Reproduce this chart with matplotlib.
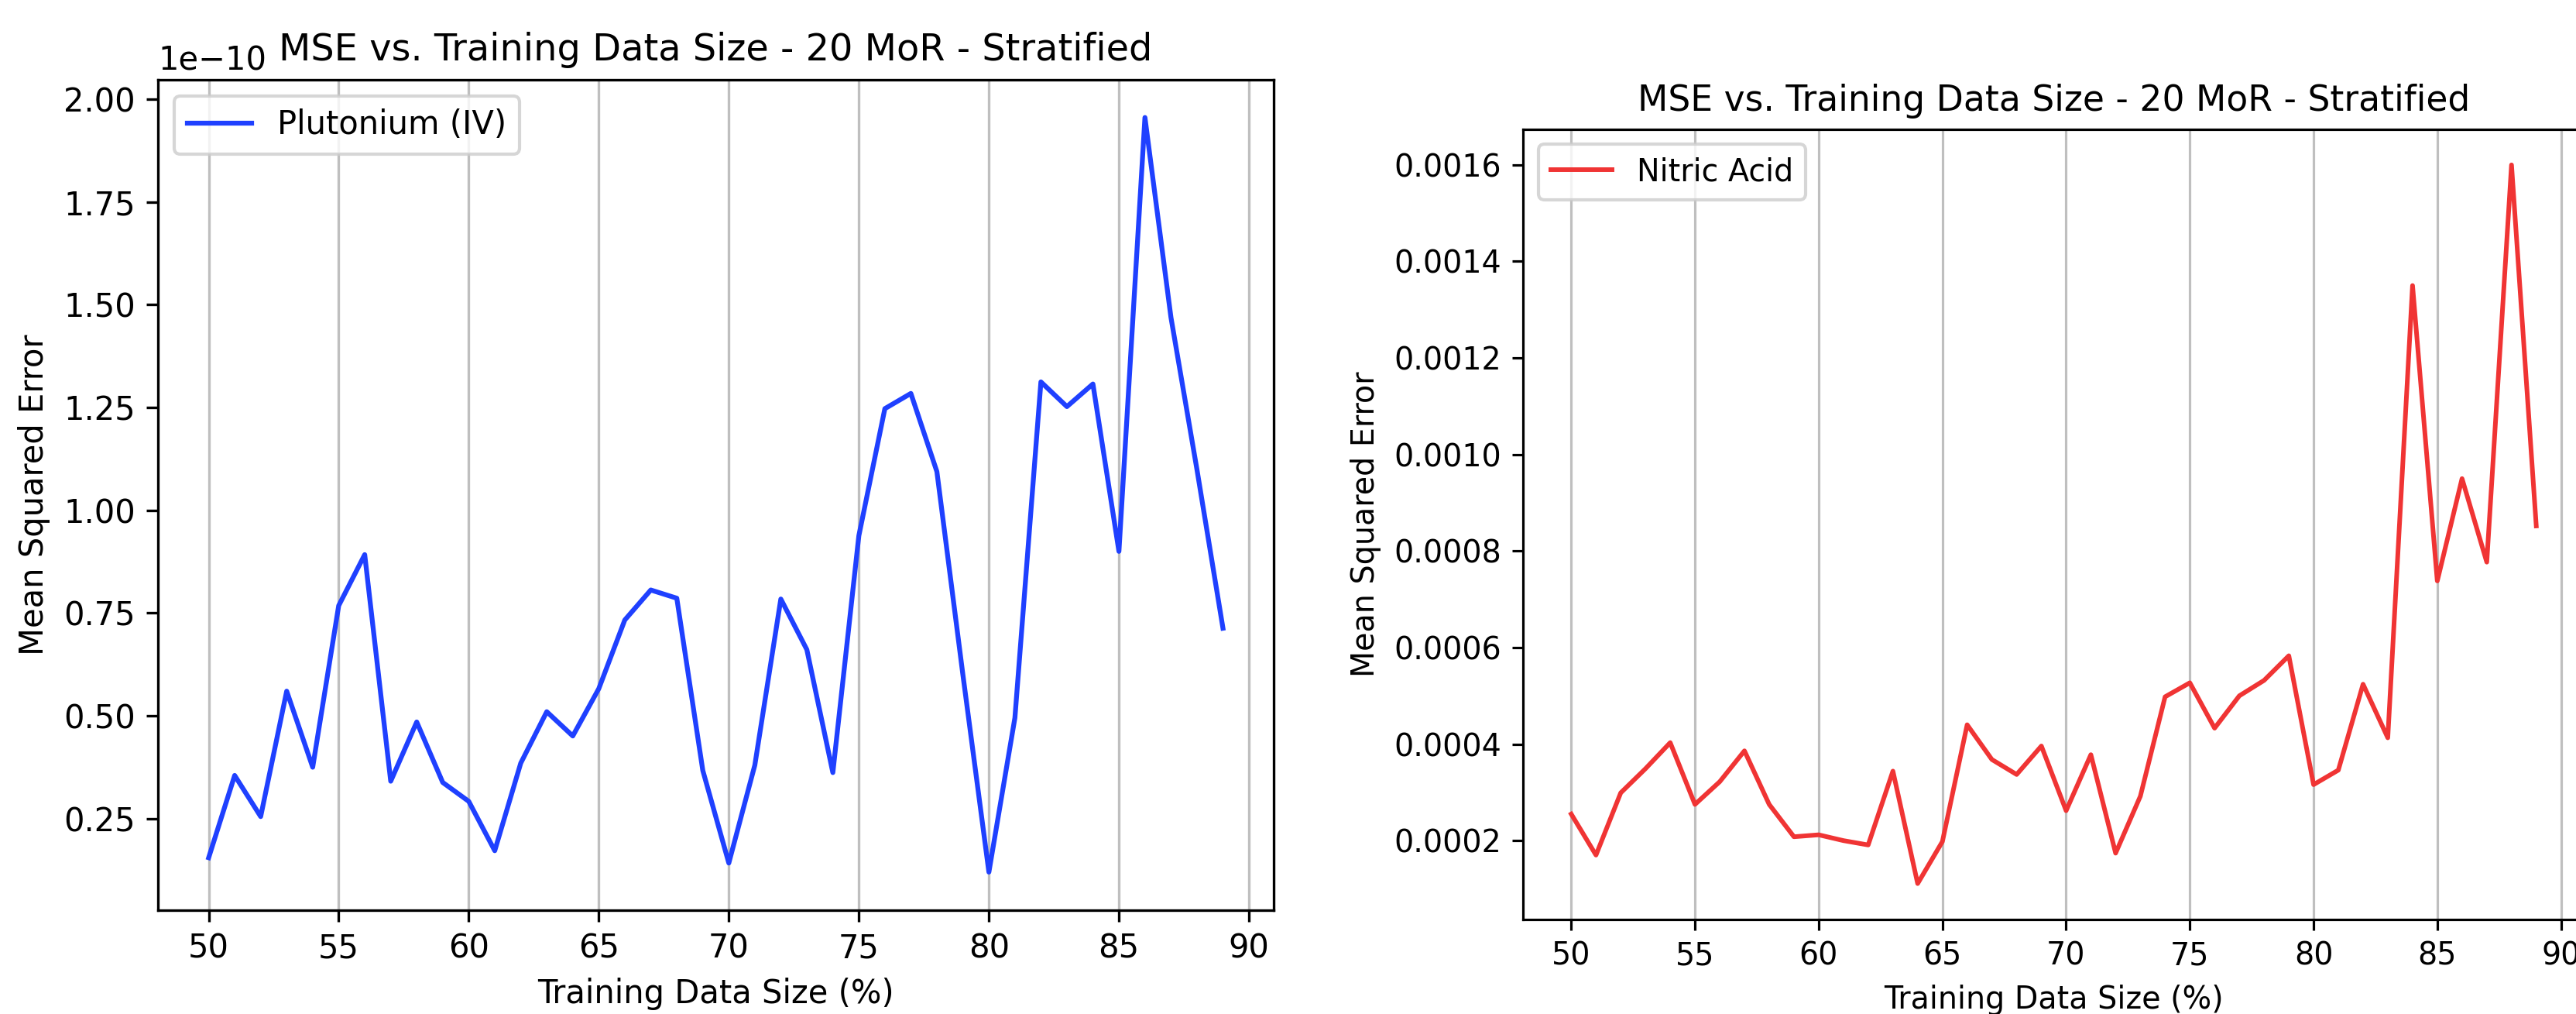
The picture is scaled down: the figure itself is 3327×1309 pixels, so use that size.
import numpy as np
import matplotlib
matplotlib.use("Agg")
import matplotlib.pyplot as plt

# Training data size (%) shared by both panels
train_size = np.arange(50, 90)

# MSE values
pu_mse = [0.155, 0.355, 0.255, 0.560, 0.375, 0.768, 0.892, 0.341, 0.485, 0.338,
          0.292, 0.172, 0.385, 0.510, 0.451, 0.566, 0.733, 0.806, 0.786, 0.367,
          0.142, 0.380, 0.784, 0.661, 0.362, 0.938, 1.247, 1.284, 1.094, 0.600,
          0.120, 0.495, 1.312, 1.252, 1.307, 0.900, 1.955, 1.469, 1.099, 0.713]
pu_mse = np.array(pu_mse) * 1e-10

hno3_mse = [2.55, 1.70, 2.99, 3.49, 4.03, 2.75, 3.22, 3.86, 2.75, 2.08,
            2.12, 2.00, 1.91, 3.44, 1.11, 1.98, 4.40, 3.68, 3.37, 3.96,
            2.62, 3.78, 1.74, 2.92, 4.98, 5.27, 4.33, 5.00, 5.32, 5.83,
            3.16, 3.46, 5.24, 4.13, 13.5, 7.38, 9.50, 7.77, 16.0, 8.52]
hno3_mse = np.array(hno3_mse) * 1e-4

W, H = 3327, 1309
fig = plt.figure(figsize=(W / 300, H / 300), dpi=300)

# left panel (Plutonium)
ax1 = fig.add_axes([204 / W, 1 - 1174.5 / H, 1441 / W, (1174.5 - 103) / H])
ax1.plot(train_size, pu_mse, color='#1f40ff', lw=1.5, label='Plutonium (IV)')
# fixed y so the title stays level with the 1e-10 offset text
ax1.set_title('MSE vs. Training Data Size - 20 MoR - Stratified', fontsize=11.5, y=1.0, pad=6)
ax1.set_xlabel('Training Data Size (%)')
ax1.set_ylabel('Mean Squared Error')
ax1.grid(axis='x', color='#bfbfbf')
ax1.legend(loc='upper left')

# right panel (Nitric acid), rendered slightly smaller in the reference
s = 0.953
ax2 = fig.add_axes([1967 / W, 1 - 1187 / H, 1371 / W, (1187 - 166.5) / H])
ax2.plot(train_size, hno3_mse, color='#f03434', lw=1.5 * s, label='Nitric Acid')
ax2.set_title('MSE vs. Training Data Size - 20 MoR - Stratified', fontsize=11.5 * s, y=1.0, pad=6 * s)
ax2.set_xlabel('Training Data Size (%)', fontsize=10 * s, labelpad=4 * s)
ax2.set_ylabel('Mean Squared Error', fontsize=10 * s, labelpad=4 * s)
ax2.tick_params(labelsize=10 * s, length=3.5 * s, width=0.8 * s, pad=3.5 * s)
ax2.grid(axis='x', color='#bfbfbf', lw=0.8 * s)
for sp in ax2.spines.values():
    sp.set_linewidth(0.8 * s)
ax2.legend(loc='upper left', fontsize=10 * s)

fig.savefig('out.png', dpi=300)
